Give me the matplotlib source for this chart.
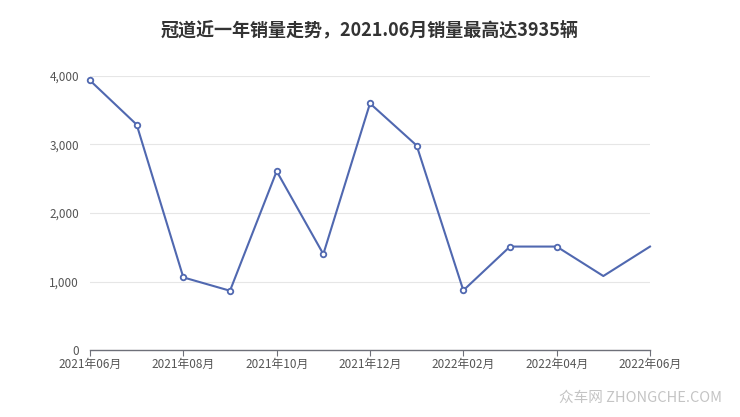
import matplotlib
matplotlib.use("Agg")
import matplotlib.pyplot as plt

plt.rcParams['font.family'] = ['Noto Sans CJK SC', 'DejaVu Sans']

months = ['2021年06月', '2021年07月', '2021年08月', '2021年09月', '2021年10月',
          '2021年11月', '2021年12月', '2022年01月', '2022年02月', '2022年03月',
          '2022年04月', '2022年05月', '2022年06月']
sales = [3935, 3290, 1060, 865, 2610, 1400, 3600, 2985, 870, 1510, 1510, 1080, 1510]
y_ticks = [0, 1000, 2000, 3000, 4000]

line_color = '#5068b0'

fig = plt.figure(figsize=(7.4, 4.17), dpi=100)
ax = fig.add_axes([90 / 740, 1 - 350 / 417, 560 / 740, 274 / 417])

x = list(range(len(months)))
ax.plot(x, sales, color=line_color, linewidth=1.5, marker='o', markersize=4,
        markerfacecolor='white', markeredgecolor=line_color, markeredgewidth=1.3,
        markevery=list(range(11)), clip_on=False, zorder=3)

ax.set_xlim(0, len(months) - 1)
ax.set_ylim(0, 4000)
ax.set_yticks(y_ticks)
ax.set_yticklabels([f'{v:,}' for v in y_ticks])
ax.set_xticks(x[::2])
ax.set_xticklabels(months[::2])

for v in y_ticks[1:]:
    ax.axhline(v, color='#e6e6e6', linewidth=0.8, zorder=1)

for s in ['top', 'right', 'left']:
    ax.spines[s].set_visible(False)
ax.spines['bottom'].set_color('#6e7079')
ax.spines['bottom'].set_linewidth(1.0)
ax.tick_params(axis='x', direction='out', length=4, color='#6e7079',
               labelsize=8.5, labelcolor='#555555', pad=2)
ax.tick_params(axis='y', length=0, labelsize=8.5, labelcolor='#555555', pad=8)

fig.text(0.5, 1 - 30 / 417, '冠道近一年销量走势，2021.06月销量最高达3935辆',
         ha='center', va='center', fontsize=13, fontweight='bold', color='#333333')
fig.text(722 / 740, 1 - 398 / 417, '众车网 ZHONGCHE.COM', ha='right', va='center',
         fontsize=10.5, color='#c4c4c4')

fig.savefig('out.png', dpi=100)
